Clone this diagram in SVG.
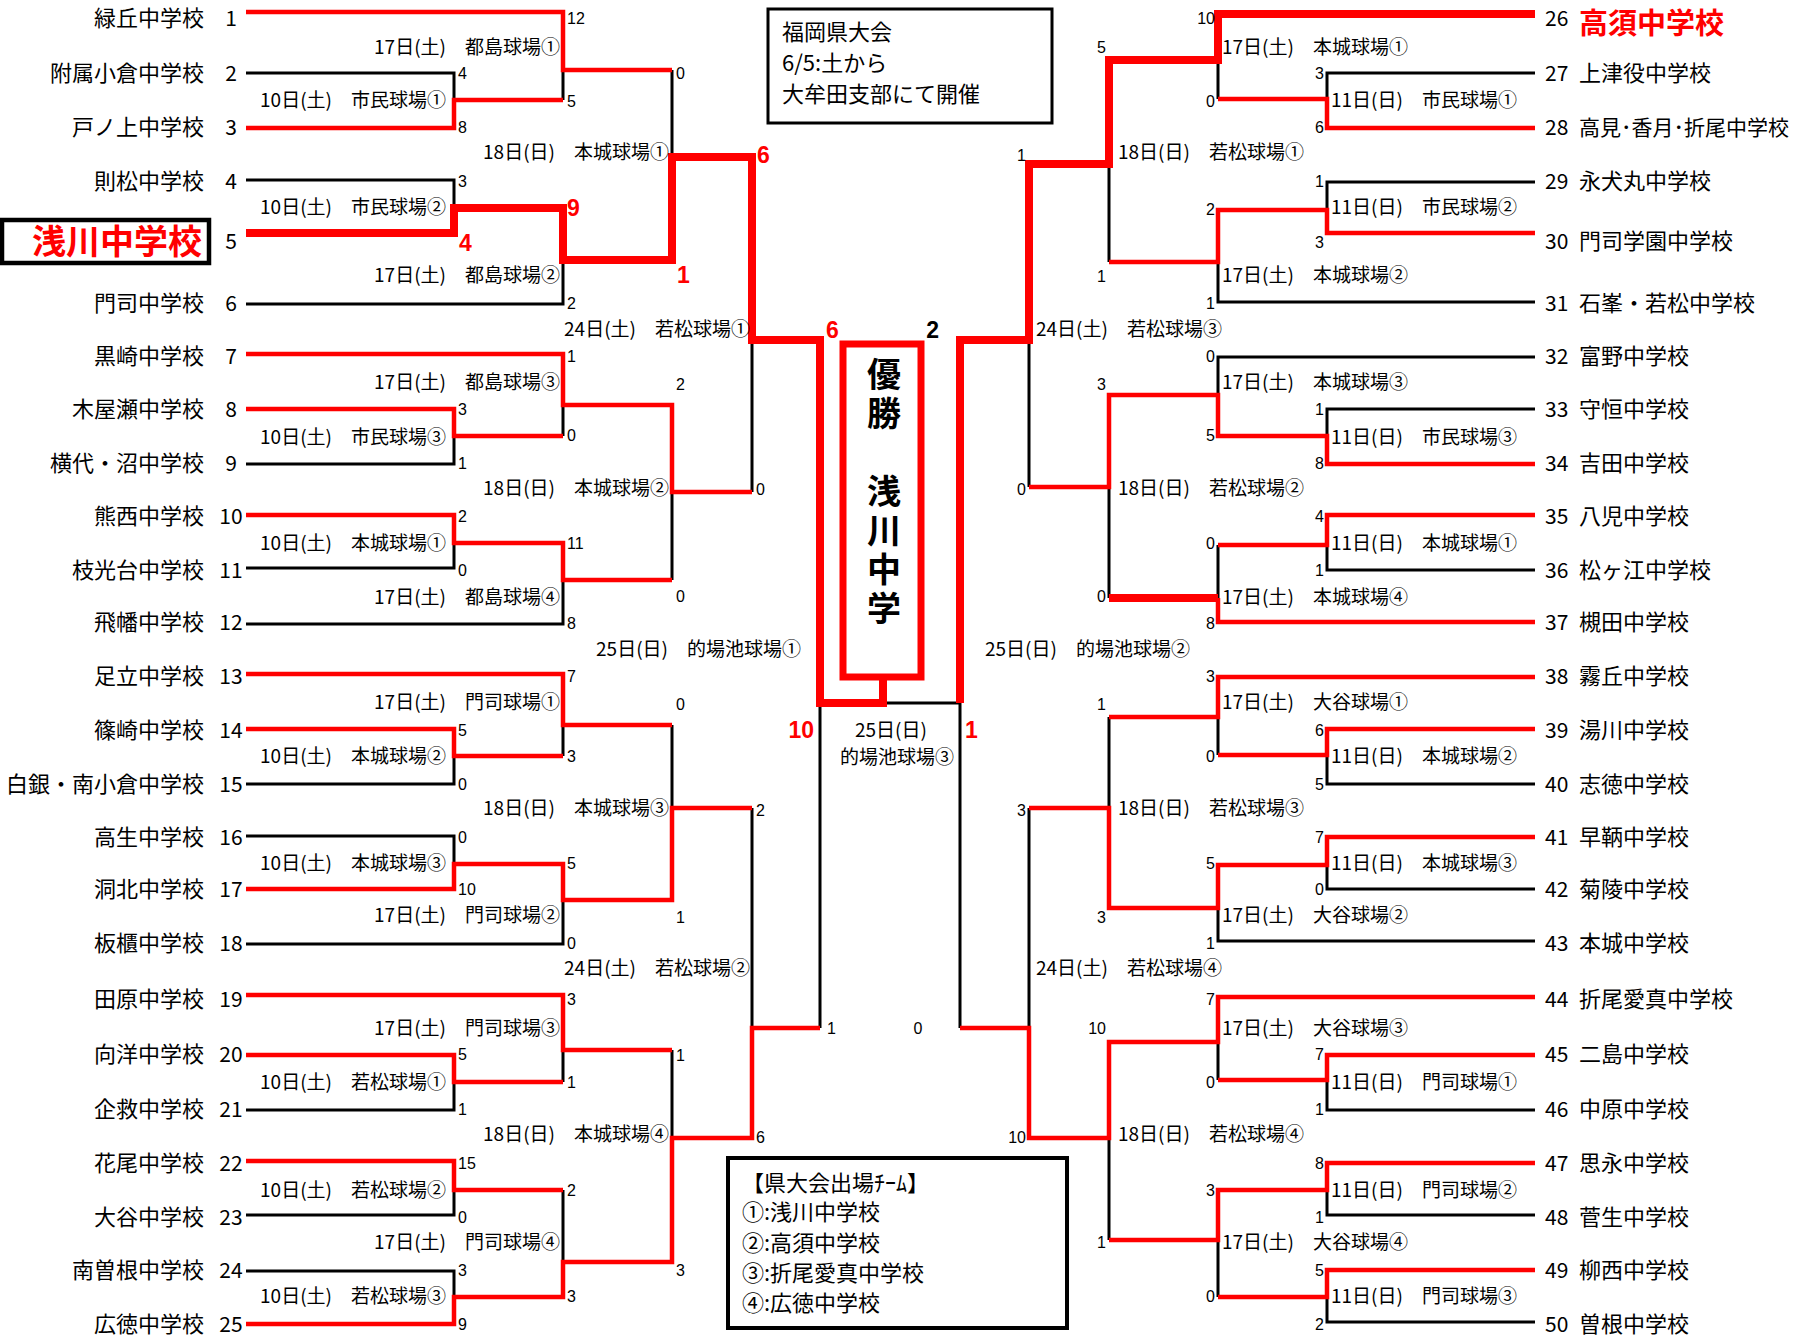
<svg xmlns="http://www.w3.org/2000/svg" width="1797" height="1335" viewBox="0 0 1797 1335">
<style>
.bk{fill:none;stroke:#000;stroke-width:3}
.rd{fill:none;stroke:#f00;stroke-width:4.5}
.rt{fill:none;stroke:#f00;stroke-width:8}
.nm{font-family:"Noto Sans CJK JP","Noto Sans CJK SC",sans-serif;font-size:22px;fill:#000}
.ne{text-anchor:end}
.no{font-family:"Noto Sans CJK JP",sans-serif;font-size:21px;fill:#000}
.nc{text-anchor:middle}
.v{font-family:"Noto Sans CJK JP",sans-serif;font-size:19px;fill:#000}
.s{font-family:"Liberation Sans",sans-serif;font-size:16px;fill:#000}
.sb{font-family:"Liberation Sans",sans-serif;font-size:23px;font-weight:bold;fill:#f00}
.win{font-family:"Noto Sans CJK JP",sans-serif;font-weight:bold;fill:#f00}
.box{fill:none;stroke:#000}
</style>
<rect x="0" y="0" width="1797" height="1335" fill="#fff"/>

<g id="connectors">
<path class="bk" d="M246,73H454V100M563,70V100M246,180H454V208M246,304H563V260M672,70V157M246,464H454V436M563,405V436M246,568H454V543M246,624H563V580M672,492V580M752,340V492M246,784H454V756M563,725V756M246,836H454V864M246,944H563V900M672,725V808M752,808V1028M246,1110H454V1082M563,1050V1082M246,1215H454V1190M246,1271H454V1297M563,1190V1262M672,1050V1138M820,703V1028"/>
<path class="bk" d="M1535,73H1327V99M1218,60V99M1535,182H1327V210M1535,302H1218V262M1109,164V262M1535,357H1218V395M1535,409H1327V436M1535,570H1327V545M1218,545V598M1109,487V598M1029,340V487M1535,784H1327V755M1218,717V755M1535,889H1327V865M1535,941H1218V908M1109,717V808M1029,808V1028M1535,1110H1327V1080M1218,1042V1080M1535,1215H1327V1190M1535,1322H1327V1297M1218,1240V1297M1109,1138V1240M960,703V1028M883,703H960"/>
<path class="rd" d="M246,128H454V100H563M246,12H563V70H672M246,354H563V405H672V492H752M246,409H454V436H563M246,515H454V543H563V580H672M246,674H563V725H672M246,729H454V756H563M246,889H454V864H563V900H672V808H752M246,995H563V1050H672M246,1055H454V1082H563M246,1161H454V1190H563M246,1324H454V1297H563V1262H672V1138H752V1028H820"/>
<path class="rd" d="M1535,128H1327V99H1218M1535,233H1327V210H1218V262H1109M1535,464H1327V436H1218V395H1109V487H1029M1535,515H1327V545H1218M1535,622H1218V598M1535,677H1218V717H1109M1535,729H1327V755H1218M1535,837H1327V865H1218V908H1109V808H1029M1535,997H1218V1042H1109V1138H1029V1028H960M1535,1055H1327V1080H1218M1535,1163H1327V1190H1218V1240H1109M1535,1270H1327V1297H1218"/>
<path class="rt" d="M246,233H454V208H563V260H672V157H752V340H820V703H883V677"/>
<path class="rt" d="M1535,14H1218V60H1109V164H1029V340H960V703M1218,598H1109"/>
</g>

<g id="champion">
<rect x="843" y="344" width="78" height="333" fill="none" stroke="#f00" stroke-width="7"/>
<text class="win" x="884" y="357" writing-mode="vertical-rl" style="fill:#000;font-size:34px;letter-spacing:5px">優勝　浅川中学</text>
</g>

<g id="info-box">
<rect class="box" x="768" y="9" width="284" height="114" stroke-width="3"/>
<text class="nm" x="782" y="40">福岡県大会</text>
<text class="nm" x="782" y="71">6/5:土から</text>
<text class="nm" x="782" y="102">大牟田支部にて開催</text>
</g>

<g id="legend-box">
<rect class="box" x="728" y="1158" width="339" height="170" stroke-width="4"/>
<text class="nm" x="742" y="1191">【県大会出場ﾁｰﾑ】</text>
<text class="nm" x="742" y="1220">①:浅川中学校</text>
<text class="nm" x="742" y="1251">②:高須中学校</text>
<text class="nm" x="742" y="1281">③:折尾愛真中学校</text>
<text class="nm" x="742" y="1311">④:広徳中学校</text>
</g>

<g id="teams-left">
<g id="team-01"><text class="nm ne" x="204" y="26">緑丘中学校</text><text class="no nc" x="231" y="26">1</text></g>
<g id="team-02"><text class="nm ne" x="204" y="81">附属小倉中学校</text><text class="no nc" x="231" y="81">2</text></g>
<g id="team-03"><text class="nm ne" x="204" y="135">戸ノ上中学校</text><text class="no nc" x="231" y="135">3</text></g>
<g id="team-04"><text class="nm ne" x="204" y="189">則松中学校</text><text class="no nc" x="231" y="189">4</text></g>
<g id="team-05"><rect x="2" y="220" width="207" height="43" fill="none" stroke="#000" stroke-width="4.5"/><text class="win ne" style="font-size:34px" x="202" y="254">浅川中学校</text><text class="no nc" x="231" y="249">5</text></g>
<g id="team-06"><text class="nm ne" x="204" y="311">門司中学校</text><text class="no nc" x="231" y="311">6</text></g>
<g id="team-07"><text class="nm ne" x="204" y="364">黒崎中学校</text><text class="no nc" x="231" y="364">7</text></g>
<g id="team-08"><text class="nm ne" x="204" y="417">木屋瀬中学校</text><text class="no nc" x="231" y="417">8</text></g>
<g id="team-09"><text class="nm ne" x="204" y="471">横代・沼中学校</text><text class="no nc" x="231" y="471">9</text></g>
<g id="team-10"><text class="nm ne" x="204" y="524">熊西中学校</text><text class="no nc" x="231" y="524">10</text></g>
<g id="team-11"><text class="nm ne" x="204" y="578">枝光台中学校</text><text class="no nc" x="231" y="578">11</text></g>
<g id="team-12"><text class="nm ne" x="204" y="630">飛幡中学校</text><text class="no nc" x="231" y="630">12</text></g>
<g id="team-13"><text class="nm ne" x="204" y="684">足立中学校</text><text class="no nc" x="231" y="684">13</text></g>
<g id="team-14"><text class="nm ne" x="204" y="738">篠崎中学校</text><text class="no nc" x="231" y="738">14</text></g>
<g id="team-15"><text class="nm ne" x="204" y="792">白銀・南小倉中学校</text><text class="no nc" x="231" y="792">15</text></g>
<g id="team-16"><text class="nm ne" x="204" y="845">高生中学校</text><text class="no nc" x="231" y="845">16</text></g>
<g id="team-17"><text class="nm ne" x="204" y="897">洞北中学校</text><text class="no nc" x="231" y="897">17</text></g>
<g id="team-18"><text class="nm ne" x="204" y="951">板櫃中学校</text><text class="no nc" x="231" y="951">18</text></g>
<g id="team-19"><text class="nm ne" x="204" y="1007">田原中学校</text><text class="no nc" x="231" y="1007">19</text></g>
<g id="team-20"><text class="nm ne" x="204" y="1062">向洋中学校</text><text class="no nc" x="231" y="1062">20</text></g>
<g id="team-21"><text class="nm ne" x="204" y="1117">企救中学校</text><text class="no nc" x="231" y="1117">21</text></g>
<g id="team-22"><text class="nm ne" x="204" y="1171">花尾中学校</text><text class="no nc" x="231" y="1171">22</text></g>
<g id="team-23"><text class="nm ne" x="204" y="1225">大谷中学校</text><text class="no nc" x="231" y="1225">23</text></g>
<g id="team-24"><text class="nm ne" x="204" y="1278">南曽根中学校</text><text class="no nc" x="231" y="1278">24</text></g>
<g id="team-25"><text class="nm ne" x="204" y="1332">広徳中学校</text><text class="no nc" x="231" y="1332">25</text></g>
</g>

<g id="teams-right">
<g id="team-26"><text class="no" x="1545" y="26">26</text><text class="win" style="font-size:29px" x="1579" y="34">高須中学校</text></g>
<g id="team-27"><text class="no" x="1545" y="81">27</text><text class="nm" x="1579" y="81">上津役中学校</text></g>
<g id="team-28"><text class="no" x="1545" y="135">28</text><text class="nm" style="font-size:21px" x="1579" y="135">高見･香月･折尾中学校</text></g>
<g id="team-29"><text class="no" x="1545" y="189">29</text><text class="nm" x="1579" y="189">永犬丸中学校</text></g>
<g id="team-30"><text class="no" x="1545" y="249">30</text><text class="nm" x="1579" y="249">門司学園中学校</text></g>
<g id="team-31"><text class="no" x="1545" y="311">31</text><text class="nm" x="1579" y="311">石峯・若松中学校</text></g>
<g id="team-32"><text class="no" x="1545" y="364">32</text><text class="nm" x="1579" y="364">富野中学校</text></g>
<g id="team-33"><text class="no" x="1545" y="417">33</text><text class="nm" x="1579" y="417">守恒中学校</text></g>
<g id="team-34"><text class="no" x="1545" y="471">34</text><text class="nm" x="1579" y="471">吉田中学校</text></g>
<g id="team-35"><text class="no" x="1545" y="524">35</text><text class="nm" x="1579" y="524">八児中学校</text></g>
<g id="team-36"><text class="no" x="1545" y="578">36</text><text class="nm" x="1579" y="578">松ヶ江中学校</text></g>
<g id="team-37"><text class="no" x="1545" y="630">37</text><text class="nm" x="1579" y="630">槻田中学校</text></g>
<g id="team-38"><text class="no" x="1545" y="684">38</text><text class="nm" x="1579" y="684">霧丘中学校</text></g>
<g id="team-39"><text class="no" x="1545" y="738">39</text><text class="nm" x="1579" y="738">湯川中学校</text></g>
<g id="team-40"><text class="no" x="1545" y="792">40</text><text class="nm" x="1579" y="792">志徳中学校</text></g>
<g id="team-41"><text class="no" x="1545" y="845">41</text><text class="nm" x="1579" y="845">早鞆中学校</text></g>
<g id="team-42"><text class="no" x="1545" y="897">42</text><text class="nm" x="1579" y="897">菊陵中学校</text></g>
<g id="team-43"><text class="no" x="1545" y="951">43</text><text class="nm" x="1579" y="951">本城中学校</text></g>
<g id="team-44"><text class="no" x="1545" y="1007">44</text><text class="nm" x="1579" y="1007">折尾愛真中学校</text></g>
<g id="team-45"><text class="no" x="1545" y="1062">45</text><text class="nm" x="1579" y="1062">二島中学校</text></g>
<g id="team-46"><text class="no" x="1545" y="1117">46</text><text class="nm" x="1579" y="1117">中原中学校</text></g>
<g id="team-47"><text class="no" x="1545" y="1171">47</text><text class="nm" x="1579" y="1171">思永中学校</text></g>
<g id="team-48"><text class="no" x="1545" y="1225">48</text><text class="nm" x="1579" y="1225">菅生中学校</text></g>
<g id="team-49"><text class="no" x="1545" y="1278">49</text><text class="nm" x="1579" y="1278">柳西中学校</text></g>
<g id="team-50"><text class="no" x="1545" y="1332">50</text><text class="nm" x="1579" y="1332">曽根中学校</text></g>
</g>

<g id="venues-left" class="v" text-anchor="end">
<text x="446" y="107">10日(土)　市民球場①</text>
<text x="446" y="214">10日(土)　市民球場②</text>
<text x="446" y="444">10日(土)　市民球場③</text>
<text x="446" y="550">10日(土)　本城球場①</text>
<text x="446" y="763">10日(土)　本城球場②</text>
<text x="446" y="870">10日(土)　本城球場③</text>
<text x="446" y="1089">10日(土)　若松球場①</text>
<text x="446" y="1197">10日(土)　若松球場②</text>
<text x="446" y="1303">10日(土)　若松球場③</text>
<text x="560" y="54">17日(土)　都島球場①</text>
<text x="560" y="282">17日(土)　都島球場②</text>
<text x="560" y="389">17日(土)　都島球場③</text>
<text x="560" y="604">17日(土)　都島球場④</text>
<text x="560" y="709">17日(土)　門司球場①</text>
<text x="560" y="922">17日(土)　門司球場②</text>
<text x="560" y="1035">17日(土)　門司球場③</text>
<text x="560" y="1249">17日(土)　門司球場④</text>
<text x="669" y="159">18日(日)　本城球場①</text>
<text x="669" y="495">18日(日)　本城球場②</text>
<text x="669" y="815">18日(日)　本城球場③</text>
<text x="669" y="1141">18日(日)　本城球場④</text>
<text x="750" y="336">24日(土)　若松球場①</text>
<text x="750" y="975">24日(土)　若松球場②</text>
<text x="801" y="656">25日(日)　的場池球場①</text>
</g>

<g id="venues-right" class="v">
<text x="1331" y="107">11日(日)　市民球場①</text>
<text x="1331" y="214">11日(日)　市民球場②</text>
<text x="1331" y="444">11日(日)　市民球場③</text>
<text x="1331" y="550">11日(日)　本城球場①</text>
<text x="1331" y="763">11日(日)　本城球場②</text>
<text x="1331" y="870">11日(日)　本城球場③</text>
<text x="1331" y="1089">11日(日)　門司球場①</text>
<text x="1331" y="1197">11日(日)　門司球場②</text>
<text x="1331" y="1303">11日(日)　門司球場③</text>
<text x="1222" y="54">17日(土)　本城球場①</text>
<text x="1222" y="282">17日(土)　本城球場②</text>
<text x="1222" y="389">17日(土)　本城球場③</text>
<text x="1222" y="604">17日(土)　本城球場④</text>
<text x="1222" y="709">17日(土)　大谷球場①</text>
<text x="1222" y="922">17日(土)　大谷球場②</text>
<text x="1222" y="1035">17日(土)　大谷球場③</text>
<text x="1222" y="1249">17日(土)　大谷球場④</text>
<text x="1118" y="159">18日(日)　若松球場①</text>
<text x="1118" y="495">18日(日)　若松球場②</text>
<text x="1118" y="815">18日(日)　若松球場③</text>
<text x="1118" y="1141">18日(日)　若松球場④</text>
<text x="1036" y="336">24日(土)　若松球場③</text>
<text x="1036" y="975">24日(土)　若松球場④</text>
<text x="985" y="656">25日(日)　的場池球場②</text>
</g>

<g id="venue-final" class="v" text-anchor="middle">
<text x="891" y="737">25日(日)</text>
<text x="897" y="764">的場池球場③</text>
</g>

<g id="scores-left" class="s">
<text x="458" y="79">4</text><text x="458" y="133">8</text><text x="458" y="187">3</text><text x="458" y="415">3</text><text x="458" y="469">1</text><text x="458" y="522">2</text><text x="458" y="576">0</text><text x="458" y="736">5</text><text x="458" y="790">0</text><text x="458" y="843">0</text><text x="458" y="895">10</text><text x="458" y="1060">5</text><text x="458" y="1115">1</text><text x="458" y="1169">15</text><text x="458" y="1223">0</text><text x="458" y="1276">3</text><text x="458" y="1330">9</text>
<text x="567" y="24">12</text><text x="567" y="107">5</text><text x="567" y="309">2</text><text x="567" y="362">1</text><text x="567" y="441">0</text><text x="567" y="549">11</text><text x="567" y="629">8</text><text x="567" y="682">7</text><text x="567" y="762">3</text><text x="567" y="869">5</text><text x="567" y="949">0</text><text x="567" y="1005">3</text><text x="567" y="1088">1</text><text x="567" y="1196">2</text><text x="567" y="1302">3</text>
<text x="676" y="79">0</text><text x="676" y="390">2</text><text x="676" y="602">0</text><text x="676" y="710">0</text><text x="676" y="923">1</text><text x="676" y="1061">1</text><text x="676" y="1276">3</text>
<text x="756" y="495">0</text><text x="756" y="816">2</text><text x="756" y="1143">6</text>
<text x="827" y="1034">1</text>
<text x="918" y="1034" text-anchor="middle">0</text>
</g>

<g id="scores-right" class="s" text-anchor="end">
<text x="1324" y="79">3</text><text x="1324" y="133">6</text><text x="1324" y="187">1</text><text x="1324" y="248">3</text><text x="1324" y="415">1</text><text x="1324" y="469">8</text><text x="1324" y="522">4</text><text x="1324" y="576">1</text><text x="1324" y="736">6</text><text x="1324" y="790">5</text><text x="1324" y="843">7</text><text x="1324" y="895">0</text><text x="1324" y="1060">7</text><text x="1324" y="1115">1</text><text x="1324" y="1169">8</text><text x="1324" y="1223">1</text><text x="1324" y="1276">5</text><text x="1324" y="1330">2</text>
<text x="1215" y="24">10</text><text x="1215" y="107">0</text><text x="1215" y="215">2</text><text x="1215" y="309">1</text><text x="1215" y="362">0</text><text x="1215" y="441">5</text><text x="1215" y="549">0</text><text x="1215" y="629">8</text><text x="1215" y="682">3</text><text x="1215" y="762">0</text><text x="1215" y="869">5</text><text x="1215" y="949">1</text><text x="1215" y="1005">7</text><text x="1215" y="1088">0</text><text x="1215" y="1196">3</text><text x="1215" y="1302">0</text>
<text x="1106" y="53">5</text><text x="1106" y="282">1</text><text x="1106" y="390">3</text><text x="1106" y="602">0</text><text x="1106" y="710">1</text><text x="1106" y="923">3</text><text x="1106" y="1034">10</text><text x="1106" y="1248">1</text>
<text x="1026" y="161">1</text><text x="1026" y="495">0</text><text x="1026" y="816">3</text><text x="1026" y="1143">10</text>
</g>

<g id="scores-bold" class="sb">
<text x="567" y="216">9</text>
<text x="459" y="251">4</text>
<text x="677" y="283">1</text>
<text x="757" y="163">6</text>
<text x="826" y="338">6</text>
<text x="814" y="738" text-anchor="end">10</text>
<text x="939" y="338" text-anchor="end" style="fill:#000">2</text>
<text x="965" y="738">1</text>
</g>
</svg>
